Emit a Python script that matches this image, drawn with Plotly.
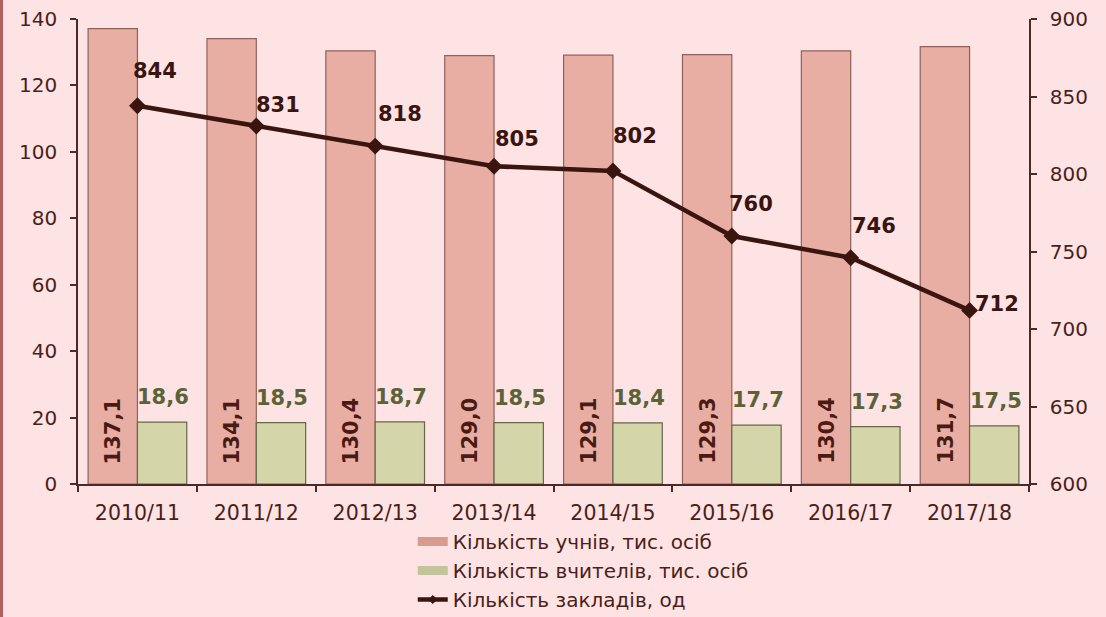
import plotly.graph_objects as go

years = ["2010/11", "2011/12", "2012/13", "2013/14", "2014/15", "2015/16", "2016/17", "2017/18"]
students = [137.1, 134.1, 130.4, 129.0, 129.1, 129.3, 130.4, 131.7]
teachers = [18.6, 18.5, 18.7, 18.5, 18.4, 17.7, 17.3, 17.5]
schools = [844, 831, 818, 805, 802, 760, 746, 712]

# label offsets (pixels) for the line labels, as placed in the original
line_lbl_dx = [18, 22, 25, 23, 22, 19, 23, 27]
line_lbl_dy = [35, 21, 32, 27, 35, 32, 32, 6]

def fmt(v):
    return f"{v:.1f}".replace(".", ",")

BG = "#fde3e4"
TXT = "#4a1f1a"
FONT = "DejaVu Sans"
PINK = "#e9aea3"
GREEN = "#d5d5aa"
LINE = "#3a1510"

fig = go.Figure()
fig.add_trace(go.Bar(
    x=years, y=students, name="Кількість учнів, тис. осіб", showlegend=False,
    marker=dict(color=PINK, line=dict(color="#8e625b", width=1.2)),
))
fig.add_trace(go.Bar(
    x=years, y=teachers, name="Кількість вчителів, тис. осіб", showlegend=False,
    marker=dict(color=GREEN, line=dict(color="#66664a", width=1.2)),
))
fig.add_trace(go.Scatter(
    x=years, y=schools, name="Кількість закладів, од", yaxis="y2", showlegend=False,
    mode="lines+markers",
    line=dict(color=LINE, width=4.5),
    marker=dict(symbol="diamond", size=13, color=LINE),
    cliponaxis=False,
))

# legend entries
fig.add_trace(go.Scatter(x=[None], y=[None], mode="lines", name="Кількість учнів, тис. осіб",
                         line=dict(color="#d99a90", width=9)))
fig.add_trace(go.Scatter(x=[None], y=[None], mode="lines", name="Кількість вчителів, тис. осіб",
                         line=dict(color="#c4c49a", width=9)))
fig.add_trace(go.Scatter(x=[None], y=[None], mode="lines+markers", name="Кількість закладів, од",
                         line=dict(color=LINE, width=4.5),
                         marker=dict(symbol="diamond", size=7, color=LINE)))

ann = []
for i, yr in enumerate(years):
    ann.append(dict(x=yr, y=0, xref="x", yref="y", text=fmt(students[i]), showarrow=False,
                    textangle=-90, xanchor="center", yanchor="middle", xshift=-24, yshift=53,
                    font=dict(family=FONT, size=21, color="#4a1a14", weight="bold")))
    ann.append(dict(x=yr, y=teachers[i], xref="x", yref="y", text=fmt(teachers[i]), showarrow=False,
                    xanchor="center", yanchor="middle", xshift=26, yshift=25,
                    font=dict(family=FONT, size=21, color="#5b6235", weight="bold")))
    ann.append(dict(x=yr, y=schools[i], xref="x", yref="y2", text=str(schools[i]), showarrow=False,
                    xanchor="center", yanchor="middle", xshift=line_lbl_dx[i], yshift=line_lbl_dy[i],
                    font=dict(family=FONT, size=21, color=LINE, weight="bold")))

axis_common = dict(
    showgrid=False, zeroline=False, showline=True, linecolor="#4a2a26", linewidth=1.5,
    ticks="outside", ticklen=6, tickcolor="#4a2a26", tickwidth=1.5, automargin=False,
)

fig.update_layout(
    width=1106, height=617,
    margin=dict(l=78, r=77, t=19, b=133, autoexpand=False),
    paper_bgcolor=BG, plot_bgcolor=BG,
    barmode="group", bargap=0.17, bargroupgap=0,
    font=dict(family=FONT, color=TXT),
    xaxis=dict(**axis_common, tickson="boundaries", ticklabelstandoff=10,
               tickfont=dict(family=FONT, size=20.5, color=TXT)),
    yaxis=dict(**axis_common, range=[0, 140], dtick=20, ticklabelstandoff=9,
               tickfont=dict(family=FONT, size=20, color=TXT)),
    yaxis2=dict(**axis_common, range=[600, 900], dtick=50, overlaying="y", side="right",
                ticklabelstandoff=9, tickfont=dict(family=FONT, size=20, color=TXT)),
    legend=dict(
        orientation="v", x=0.352, xanchor="left", yref="container", y=0.154, yanchor="top",
        font=dict(family=FONT, size=20, color=TXT), bgcolor="rgba(0,0,0,0)",
        tracegroupgap=0,
    ),
    showlegend=True,
    annotations=ann,
    shapes=[dict(type="rect", xref="paper", yref="paper", x0=-78/951, x1=-75/951,
                 y0=-133/465, y1=1 + 19/465, fillcolor="#b0605e", line=dict(width=0))],
)

fig.write_html("out.html")
